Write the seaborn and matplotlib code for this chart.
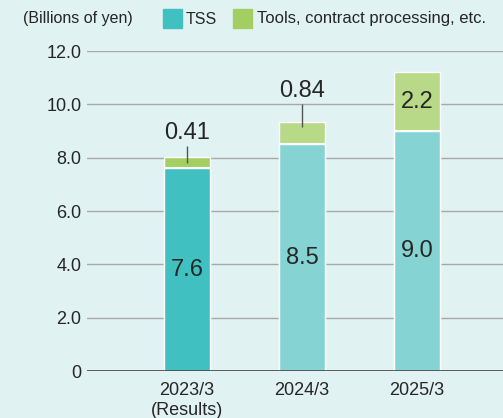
import numpy as np
import pandas as pd
import matplotlib.pyplot as plt
import seaborn as sns

# data (billions of yen)
periods = ["2023/3\n(Results)", "2024/3", "2025/3"]
tss = [7.6, 8.5, 9.0]
tools = [0.41, 0.84, 2.2]
tss_labels = ["7.6", "8.5", "9.0"]
tools_labels = ["0.41", "0.84", "2.2"]
y_ticks = [0, 2, 4, 6, 8, 10, 12]
y_tick_labels = ["0", "2.0", "4.0", "6.0", "8.0", "10.0", "12.0"]

bg = "#e0f2f2"
txt = "#262626"
tss_colors = ["#40c0c1", "#86d3d4", "#86d3d4"]
tools_colors = ["#a3cf62", "#b8d987", "#b8d987"]

df = pd.DataFrame({"period": periods, "tss": tss, "tools": tools})
df["total"] = df["tss"] + df["tools"]

sns.set_style("white")
plt.rcParams["font.family"] = ["Liberation Sans", "DejaVu Sans"]

fig = plt.figure(figsize=(5.03, 4.18), dpi=100, facecolor=bg)
ax = fig.add_axes([87 / 503, 1 - 371 / 418, (503 - 87) / 503, 320 / 418])
ax.set_facecolor(bg)

# gridlines
for t in y_ticks[1:]:
    ax.axhline(t, color="#a8a8a8", lw=1.0, zorder=0)
ax.axhline(0, color="#444444", lw=1.2, zorder=5)

# stacked bars: total first (green), then TSS on top
sns.barplot(data=df, x="period", y="total", hue="period", palette=tools_colors,
            width=0.4, legend=False, ax=ax, saturation=1, zorder=2)
sns.barplot(data=df, x="period", y="tss", hue="period", palette=tss_colors,
            width=0.4, legend=False, ax=ax, saturation=1, zorder=3)

# white separator between segments
for i, v in enumerate(tss):
    ax.hlines(v, i - 0.2, i + 0.2, color="white", lw=1.5, zorder=4)

# value labels
for i, (v, lab) in enumerate(zip(tss, tss_labels)):
    ax.text(i, v / 2, lab, ha="center", va="center", fontsize=17, color=txt, zorder=6)

# callout placement for small segments (line top, label centre above bar top)
callout = {0: (0.43, 0.91), 1: (0.67, 1.16)}
for i, (b, v, lab) in enumerate(zip(tss, tools, tools_labels)):
    top = b + v
    if i in callout:
        line_up, lab_up = callout[i]
        ax.vlines(i, top - 0.2, top + line_up, color="#555555", lw=1.0, zorder=6)
        ax.text(i, top + lab_up, lab, ha="center", va="center", fontsize=17, color=txt, zorder=6)
    else:
        ax.text(i, b + v / 2, lab, ha="center", va="center", fontsize=17, color=txt, zorder=6)

ax.set_xlim(-0.87, 2.75)
ax.set_ylim(0, 12)
ax.set_yticks(y_ticks)
ax.set_yticklabels(y_tick_labels, fontsize=13, color=txt)
ax.tick_params(axis="both", length=0)
ax.tick_params(axis="y", pad=4)
ax.tick_params(axis="x", labelsize=13, colors=txt, pad=8)
ax.set_xlabel("")
ax.set_ylabel("")
for s in ax.spines.values():
    s.set_visible(False)

# legend row at top
fig.text(23 / 503, 1 - 19 / 418, "(Billions of yen)", fontsize=11.5, va="center", color=txt)
fig.patches.append(plt.Rectangle((163 / 503, 1 - 28 / 418), 19 / 503, 19 / 418,
                                 transform=fig.transFigure, color=tss_colors[0]))
fig.text(186 / 503, 1 - 19 / 418, "TSS", fontsize=11.5, va="center", color=txt)
fig.patches.append(plt.Rectangle((233 / 503, 1 - 28 / 418), 19 / 503, 19 / 418,
                                 transform=fig.transFigure, color=tools_colors[0]))
fig.text(257 / 503, 1 - 19 / 418, "Tools, contract processing, etc.", fontsize=12,
         va="center", color=txt)

fig.savefig("out.png", dpi=100, facecolor=bg)
